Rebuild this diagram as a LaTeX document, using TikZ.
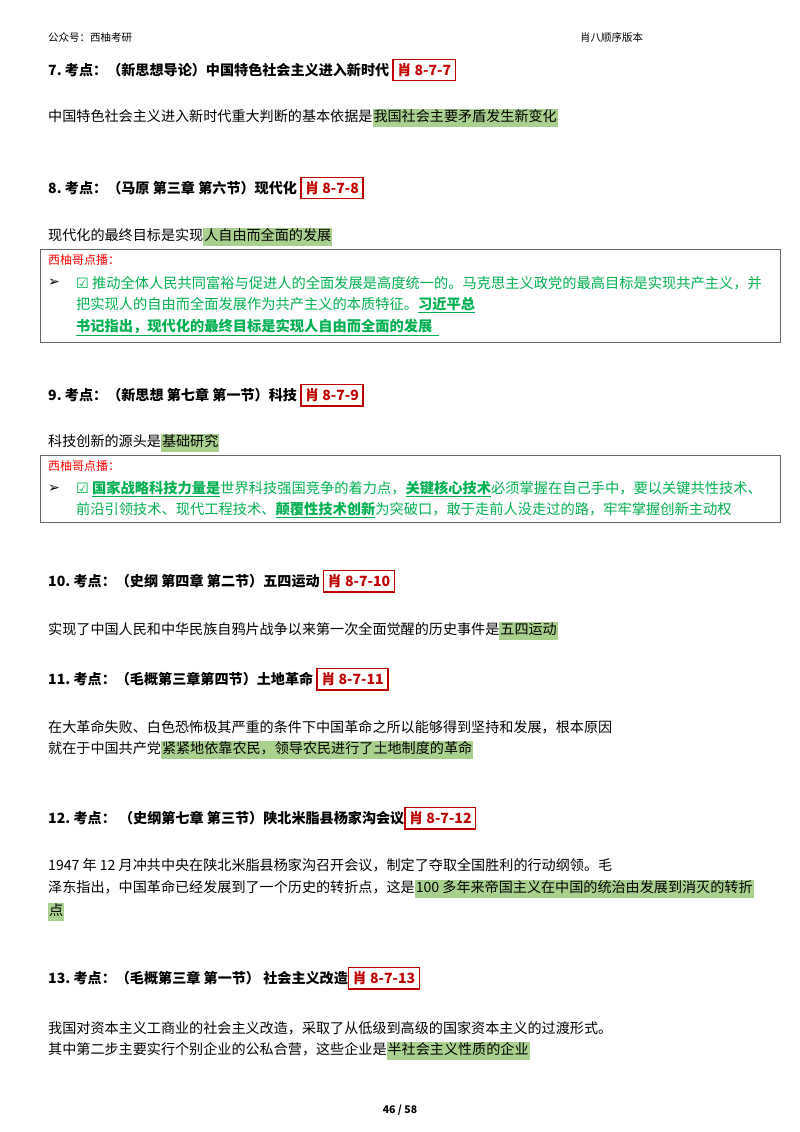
\documentclass[tikz,border=0pt]{standalone}
\usepackage{fontspec}
\setmainfont{Noto Sans CJK SC}
\newfontfamily\sym{DejaVu Sans}
\definecolor{hlg}{HTML}{A9D18E}
\definecolor{gtxt}{HTML}{00B050}
\definecolor{rtxt}{HTML}{FF0000}
\definecolor{bred}{HTML}{C00000}
\newcommand{\hlt}[1]{{\setlength{\fboxsep}{1pt}\colorbox{hlg}{\strut #1}}}
\newcommand{\tagbox}[1]{{\setlength{\fboxsep}{3.5pt}\setlength{\fboxrule}{1.3pt}\fcolorbox{bred}{white}{\textcolor{bred}{#1}}}}
\tikzset{
  txt/.style={anchor=west,inner sep=0pt,font=\fontsize{14.1}{15}\selectfont},
  head/.style={txt,font=\fontsize{14.1}{15}\selectfont\bfseries},
  small/.style={anchor=west,inner sep=0pt,font=\fontsize{10.5}{11}\selectfont},
  gline/.style={txt,text=gtxt,font=\fontsize{14.25}{15}\selectfont},
  tipbox/.style={draw=black!60,line width=0.6pt}
}
\begin{document}
\begin{tikzpicture}[x=1pt,y=-1pt]
\useasboundingbox (0,0) rectangle (800,1132);
\node[small] (h1) at (48,38) {公众号：西柚考研};
\node[small] (h2) at (580,38) {肖八顺序版本};

\node[head] (q7) at (48,70) {7.\ 考点：（新思想导论）中国特色社会主义进入新时代\ \tagbox{肖 8-7-7}};
\node[txt] (a7) at (48,118) {中国特色社会主义进入新时代重大判断的基本依据是\hlt{我国社会主要矛盾发生新变化}};

\node[head] (q8) at (48,188) {8.\ 考点：（马原\ 第三章\ 第六节）现代化\ \tagbox{肖 8-7-8}};
\node[txt] (a8) at (48,237) {现代化的最终目标是实现\hlt{人自由而全面的发展}};
\draw[tipbox] (40,249) rectangle (780,342);
\node[small,text=rtxt,font=\fontsize{12}{12}\selectfont] (t8) at (48,260) {西柚哥点播：};
\node[txt] (b8) at (48,283) {\sym ➢};
\node[gline] (l81) at (76,283) {{\sym ☑} 推动全体人民共同富裕与促进人的全面发展是高度统一的。马克思主义政党的最高目标是实现共产主义，并};
\node[gline] (l82) at (76,305) {把实现人的自由而全面发展作为共产主义的本质特征。\textbf{\underline{习近平总}}};
\node[gline] (l83) at (76,327) {\textbf{\underline{书记指出，现代化的最终目标是实现人自由而全面的发展\ \ }}};

\node[head] (q9) at (48,395) {9.\ 考点：（新思想\ 第七章\ 第一节）科技\ \tagbox{肖 8-7-9}};
\node[txt] (a9) at (48,443) {科技创新的源头是\hlt{基础研究}};
\draw[tipbox] (40,455) rectangle (780,522);
\node[small,text=rtxt,font=\fontsize{12}{12}\selectfont] (t9) at (48,466) {西柚哥点播：};
\node[txt] (b9) at (48,489) {\sym ➢};
\node[gline] (l91) at (76,489) {{\sym ☑} \textbf{\underline{国家战略科技力量是}}世界科技强国竞争的着力点，\textbf{\underline{关键核心技术}}必须掌握在自己手中，要以关键共性技术、};
\node[gline] (l92) at (76,510) {前沿引领技术、现代工程技术、\textbf{\underline{颠覆性技术创新}}为突破口，敢于走前人没走过的路，牢牢掌握创新主动权};

\node[head] (q10) at (48,581) {10.\ 考点：（史纲\ 第四章\ 第二节）五四运动\ \tagbox{肖 8-7-10}};
\node[txt] (a10) at (48,631) {实现了中国人民和中华民族自鸦片战争以来第一次全面觉醒的历史事件是\hlt{五四运动}};

\node[head] (q11) at (48,679) {11.\ 考点：（毛概第三章第四节）土地革命\ \tagbox{肖 8-7-11}};
\node[txt] (a11) at (48,727) {在大革命失败、白色恐怖极其严重的条件下中国革命之所以能够得到坚持和发展，根本原因};
\node[txt] (a11b) at (48,750) {就在于中国共产党\hlt{紧紧地依靠农民，领导农民进行了土地制度的革命}};

\node[head] (q12) at (48,818) {12.\ 考点：\ （史纲第七章\ 第三节）陕北米脂县杨家沟会议\tagbox{肖 8-7-12}};
\node[txt] (a12) at (48,865) {1947 年 12 月冲共中央在陕北米脂县杨家沟召开会议，制定了夺取全国胜利的行动纲领。毛};
\node[txt] (a12b) at (48,889) {泽东指出，中国革命已经发展到了一个历史的转折点，这是\hlt{100 多年来帝国主义在中国的统治由发展到消灭的转折}};
\node[txt] (a12c) at (48,912) {\hlt{点}};

\node[head] (q13) at (48,978) {13.\ 考点：（毛概第三章\ 第一节）\ 社会主义改造\tagbox{肖 8-7-13}};
\node[txt] (a13) at (48,1028) {我国对资本主义工商业的社会主义改造，采取了从低级到高级的国家资本主义的过渡形式。};
\node[txt] (a13b) at (48,1051) {其中第二步主要实行个别企业的公私合营，这些企业是\hlt{半社会主义性质的企业}};

\node[small,anchor=center,font=\fontsize{10.5}{11}\selectfont\bfseries] (pg) at (400,1110) {46\ /\ 58};
\end{tikzpicture}
\end{document}
